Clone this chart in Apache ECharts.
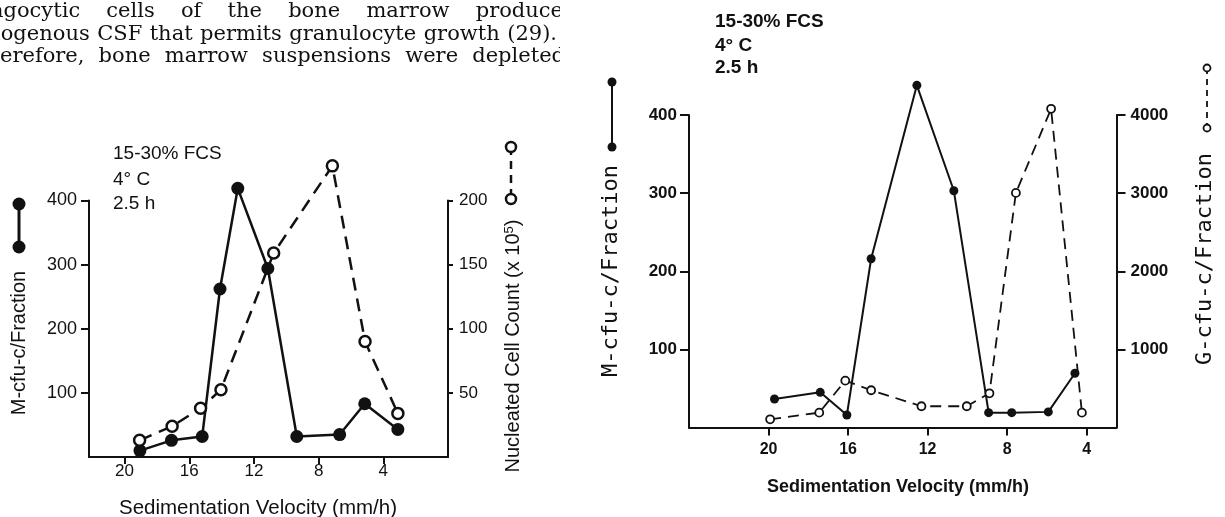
<!DOCTYPE html>
<html><head><meta charset="UTF-8">
<title>Sedimentation velocity profiles</title>
<script src="https://cdn.jsdelivr.net/npm/echarts@6/dist/echarts.min.js"></script>
<style>html,body{margin:0;padding:0;background:#fff}#c{width:1225px;height:517px}</style>
</head>
<body>
<div id="c"></div>
<script type="text/javascript">
// left panel: M-cfu-c per fraction (filled) and nucleated cell count x10^5 (open)
var leftMVel = [19.05, 17.1, 15.2, 14.1, 13.0, 11.14, 9.35, 6.7, 5.15, 3.1];
var leftM = [10, 26, 32, 262, 419, 294, 32, 35, 83, 43];
var leftCellVel = [19.07, 17.06, 15.3, 14.04, 10.78, 7.15, 5.13, 3.1];
var leftCell = [13, 24, 38, 52.5, 159, 227, 90, 34];

// right panel: M-cfu-c per fraction (filled) and G-cfu-c per fraction (open)
var rightMVel = [19.7, 17.4, 16.06, 14.84, 12.54, 10.68, 8.93, 7.77, 5.93, 4.59];
var rightM = [36.5, 45, 16, 216, 438, 303, 19, 19, 20, 69.5];
var rightGVel = [19.92, 17.45, 16.14, 14.84, 12.31, 10.03, 8.89, 7.56, 5.79, 4.24];
var rightG = [105, 190, 600, 477, 272, 272, 438, 3003, 4079, 190];

// tick labels
var velTicks = [20, 16, 12, 8, 4];
var mTicks = [100, 200, 300, 400];
var cellTicks = [50, 100, 150, 200];
var gTicks = [1000, 2000, 3000, 4000];

var notes = ['15-30% FCS', '4\u00b0 C', '2.5 h'];
var paragraph = [
    'agocytic cells of the bone marrow produce',
    'logenous CSF that permits granulocyte growth (29).',
    'erefore, bone marrow suspensions were depleted'
];

var INK = '#111';
var SANS = 'Liberation Sans';
var SERIF = 'DejaVu Serif';

function pairs(xs, ys) {
    return xs.map(function (v, i) { return [v, ys[i]]; });
}

function plain(v) { return String(v); }

function xAxisCfg(grid, min, max, tick, margin, fs, bold) {
    return {
        type: 'value', gridIndex: grid, inverse: true, min: min, max: max,
        axisLine: {onZero: false, lineStyle: {color: INK, width: 2}},
        axisTick: {length: tick, customValues: velTicks, lineStyle: {color: INK, width: 2}},
        axisLabel: {customValues: velTicks, margin: margin, color: INK, fontSize: fs, formatter: plain,
            fontFamily: SANS, fontWeight: bold ? 'bold' : 'normal'},
        splitLine: {show: false}
    };
}

function yAxisCfg(grid, pos, max, ticks, tick, margin, fs, bold) {
    return {
        type: 'value', gridIndex: grid, position: pos, min: 0, max: max,
        axisLine: {show: true, onZero: false, lineStyle: {color: INK, width: 2}},
        axisTick: {show: true, length: tick, customValues: ticks, lineStyle: {color: INK, width: 2}},
        axisLabel: {customValues: ticks, margin: margin, color: INK, fontSize: fs, formatter: plain,
            fontFamily: SANS, fontWeight: bold ? 'bold' : 'normal'},
        splitLine: {show: false}
    };
}

function justify(line, x0, x1, y, fs, family) {
    var ctx = document.createElement('canvas').getContext('2d');
    ctx.font = fs + 'px "' + family + '"';
    var words = line.split(' ');
    var widths = words.map(function (w) { return ctx.measureText(w).width; });
    var total = widths.reduce(function (a, b) { return a + b; }, 0);
    var gap = (x1 - x0 - total) / (words.length - 1);
    var out = [], x = x0;
    for (var i = 0; i < words.length; i++) {
        out.push({type: 'text', x: x, y: y, silent: true,
            style: {text: words[i], fontSize: fs, fontFamily: family, fill: INK, verticalAlign: 'middle'}});
        x += widths[i] + gap;
    }
    return out;
}

function vtext(txt, x, y, fs, family, bold, rich) {
    return {type: 'text', x: x, y: y, rotation: Math.PI / 2, silent: true,
        style: {text: txt, fontSize: fs, fontFamily: family, fontWeight: bold ? 'bold' : 'normal',
            fill: INK, align: 'center', verticalAlign: 'middle', rich: rich}};
}

function legendMark(x, y0, y1, r, w, open, dash) {
    var els = [{type: 'line', silent: true, shape: {x1: x, y1: y0, x2: x, y2: y1},
        style: {stroke: INK, lineWidth: w, lineDash: dash || null}}];
    [y0, y1].forEach(function (y) {
        els.push({type: 'circle', silent: true, shape: {cx: x, cy: y, r: r},
            style: open ? {fill: '#fff', stroke: INK, lineWidth: w} : {fill: INK}});
    });
    return els;
}

var graphics = [];
graphics = graphics.concat(justify(paragraph[0], -9, 563, 12, 21, SERIF));
graphics = graphics.concat(justify(paragraph[1], -6, 557, 35, 21, SERIF));
graphics = graphics.concat(justify(paragraph[2], 0, 565, 57, 21, SERIF));
graphics.push({type: 'rect', silent: true, shape: {x: 560, y: 0, width: 40, height: 72}, style: {fill: '#fff'}});

notes.forEach(function (t, i) {
    graphics.push({type: 'text', x: 113, y: [154, 180, 204][i], silent: true,
        style: {text: t, fontSize: 19, fontFamily: SANS, fill: INK, verticalAlign: 'middle'}});
    graphics.push({type: 'text', x: 715, y: [22, 46, 68][i], silent: true,
        style: {text: t, fontSize: 19, fontFamily: SANS, fontWeight: 'bold', fill: INK, verticalAlign: 'middle'}});
});

graphics.push(vtext('M-cfu-c/Fraction', 19, 343, 20, SANS));
graphics.push(vtext('Nucleated Cell Count (x 10{s|5})', 513, 346, 20, SANS, false,
    {s: {fontSize: 13, fontFamily: SANS, fill: INK, verticalAlign: 'top', padding: [0, 0, 8, 0]}}));
graphics.push(vtext('M-cfu-c/Fraction', 611, 271, 22, 'DejaVu Sans Mono'));
graphics.push(vtext('G-cfu-c/Fraction', 1205, 259, 22, 'DejaVu Sans Mono'));

graphics.push({type: 'text', x: 258, y: 508, silent: true,
    style: {text: 'Sedimentation Velocity (mm/h)', fontSize: 20.5, fontFamily: SANS, fill: INK,
        align: 'center', verticalAlign: 'middle'}});
graphics.push({type: 'text', x: 898, y: 487, silent: true,
    style: {text: 'Sedimentation Velocity (mm/h)', fontSize: 18, fontFamily: SANS, fontWeight: 'bold',
        fill: INK, align: 'center', verticalAlign: 'middle'}});

graphics = graphics.concat(legendMark(19, 204, 247, 6.5, 3, false));
graphics = graphics.concat(legendMark(511, 147, 199, 5, 2.5, true, [8, 6]));
graphics = graphics.concat(legendMark(612, 82, 147, 4.5, 2, false));
graphics = graphics.concat(legendMark(1207, 68, 128, 3.5, 1.8, true, [6, 5]));

var option = {
    animation: false,
    backgroundColor: '#fff',
    grid: [
        {left: 89, top: 200.5, width: 359, height: 256.5, outerBoundsMode: 'none'},
        {left: 689, top: 115, width: 427.5, height: 312.5, outerBoundsMode: 'none'}
    ],
    xAxis: [
        xAxisCfg(0, 0, 22.2, 7, 6, 17, false),
        xAxisCfg(1, 2.5, 24, 8, 14, 16, true)
    ],
    yAxis: [
        yAxisCfg(0, 'left', 400, mTicks, 8, 12, 18, false),
        yAxisCfg(0, 'right', 200, cellTicks, 5, 11, 17, false),
        yAxisCfg(1, 'left', 400, mTicks, 9, 12, 17, true),
        yAxisCfg(1, 'right', 4000, gTicks, 9, 14, 17, true)
    ],
    graphic: graphics,
    series: [
        {name: 'M-cfu-c', type: 'line', xAxisIndex: 0, yAxisIndex: 0, data: pairs(leftMVel, leftM),
            symbol: 'circle', symbolSize: 13, clip: false, z: 3,
            itemStyle: {color: INK}, lineStyle: {color: INK, width: 2.5}},
        {name: 'Nucleated cells', type: 'line', xAxisIndex: 0, yAxisIndex: 1, data: pairs(leftCellVel, leftCell),
            symbol: 'circle', symbolSize: 11, clip: false, z: 4,
            itemStyle: {color: '#fff', borderColor: INK, borderWidth: 2.5},
            lineStyle: {color: INK, width: 2.5, type: [13, 8]}},
        {name: 'M-cfu-c', type: 'line', xAxisIndex: 1, yAxisIndex: 2, data: pairs(rightMVel, rightM),
            symbol: 'circle', symbolSize: 9, clip: false, z: 3,
            itemStyle: {color: INK}, lineStyle: {color: INK, width: 2}},
        {name: 'G-cfu-c', type: 'line', xAxisIndex: 1, yAxisIndex: 3, data: pairs(rightGVel, rightG),
            symbol: 'circle', symbolSize: 8, clip: false, z: 4,
            itemStyle: {color: '#fff', borderColor: INK, borderWidth: 1.8},
            lineStyle: {color: INK, width: 1.8, type: [11, 7]}}
    ]
};

var myChart = echarts.init(document.getElementById('c'));
myChart.setOption(option);
</script>
</body></html>
